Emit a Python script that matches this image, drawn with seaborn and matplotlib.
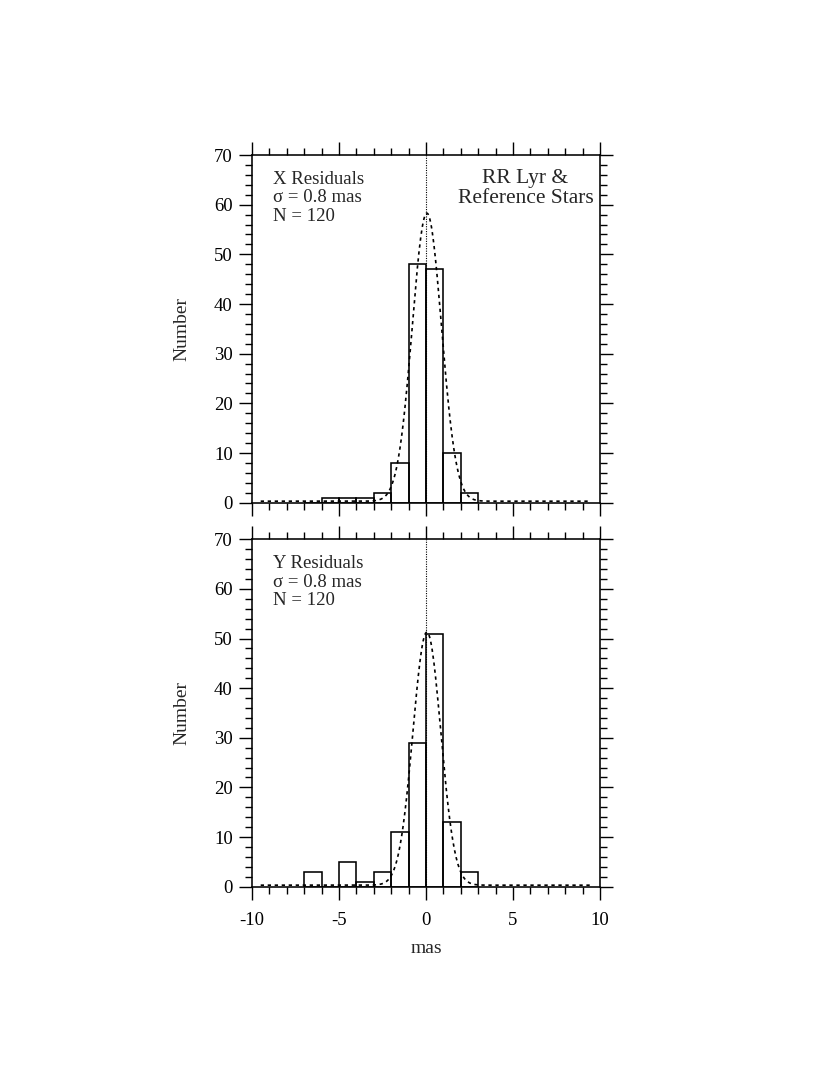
import numpy as np
import pandas as pd
import matplotlib
matplotlib.use("Agg")
import matplotlib.pyplot as plt
from matplotlib.ticker import MultipleLocator
import seaborn as sns

# bin edges (mas), 1 mas wide
bin_left = [-7, -6, -5, -4, -3, -2, -1, 0, 1, 2]
x_counts = [0, 1, 1, 1, 2, 8, 48, 47, 10, 2]
y_counts = [3, 0, 5, 1, 3, 11, 29, 51, 13, 3]

# gaussian fits drawn over the histograms: amplitude, mean, sigma, baseline
x_fit = [58.0, 0.05, 0.84, 0.3]
y_fit = [51.0, 0.05, 0.80, 0.3]

panel_text = ["X Residuals\nσ = 0.8 mas\nN = 120",
              "Y Residuals\nσ = 0.8 mas\nN = 120"]

sns.set_style("ticks")
plt.rcParams['font.family'] = ['Liberation Serif', 'DejaVu Serif']
plt.rcParams['axes.unicode_minus'] = False

fig = plt.figure(figsize=(8.3, 10.75), dpi=100)
ax1 = fig.add_axes([0.3036, 0.5324, 0.4193, 0.3234])
ax2 = fig.add_axes([0.3036, 0.1752, 0.4193, 0.3231])

gx = np.linspace(-9.5, 9.5, 400)

for ax, counts, fit, txt in [(ax1, x_counts, x_fit, panel_text[0]),
                              (ax2, y_counts, y_fit, panel_text[1])]:
    df = pd.DataFrame({"mas": np.array(bin_left) + 0.5, "n": counts})
    df = df[df["n"] > 0]
    sns.histplot(data=df, x="mas", weights="n", binwidth=1, binrange=(-7, 3),
                 fill=False, element="bars", color="black", linewidth=1.15,
                 ax=ax)
    amp, mu, sig, base = fit
    gauss = pd.DataFrame({"x": gx,
                          "y": base + amp * np.exp(-(gx - mu) ** 2 / (2 * sig ** 2))})
    sns.lineplot(data=gauss, x="x", y="y", color="black", linewidth=1.2,
                 linestyle=(0, (2, 2.2)), ax=ax)
    ax.axvline(0, color="black", linestyle=(0, (1, 1.2)), linewidth=0.8)

    ax.set_xlim(-10, 10)
    ax.set_ylim(0, 70)
    ax.xaxis.set_major_locator(MultipleLocator(5))
    ax.xaxis.set_minor_locator(MultipleLocator(1))
    ax.yaxis.set_major_locator(MultipleLocator(10))
    ax.yaxis.set_minor_locator(MultipleLocator(2))
    ax.tick_params(which="both", direction="out", top=True, right=True,
                   width=1.0, labelsize=13.5, colors="black")
    ax.tick_params(which="major", length=9.5)
    ax.tick_params(axis="y", which="major", pad=4.3)
    ax.tick_params(axis="x", which="major", pad=8.5)
    ax.tick_params(which="minor", length=5.2)
    for s in ax.spines.values():
        s.set_linewidth(1.15)
        s.set_color("black")
    ax.set_ylabel("Number", fontsize=14)
    ax.yaxis.set_label_coords(-0.177, 0.5)
    ax.text(0.059, 0.955, txt, transform=ax.transAxes, ha="left", va="top",
            fontsize=13.5, linespacing=1.12)

ax1.tick_params(labelbottom=False)
ax1.set_xlabel("")
ax2.set_xlabel("mas", fontsize=14, labelpad=8)
ax1.text(0.786, 0.96, "RR Lyr &\nReference Stars", transform=ax1.transAxes,
         ha="center", va="top", fontsize=15.5, linespacing=1.05)

fig.savefig("out.png", dpi=100)
